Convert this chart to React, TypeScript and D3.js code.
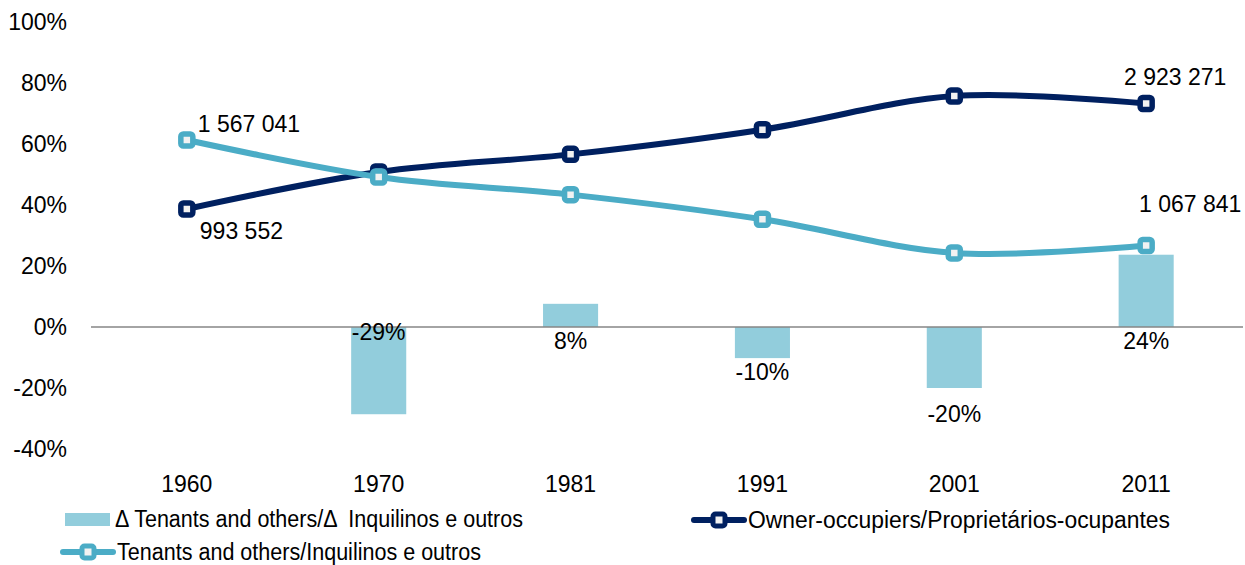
import { useEffect, useRef } from 'react'
import * as d3 from 'd3'

const years = ['1960', '1970', '1981', '1991', '2001', '2011']
const ownerShare = [38.7, 50.8, 56.6, 64.7, 75.7, 73.3]
const tenantShare = [61.3, 49.2, 43.4, 35.3, 24.3, 26.7]
const tenantChange = [null, -28.6, 7.6, -10.2, -20.0, 23.7]
const changeLabels = ['', '-29%', '8%', '-10%', '-20%', '24%']
const yTicks = [-40, -20, 0, 20, 40, 60, 80, 100]

const W = 1245
const H = 565
const FONT = 'Liberation Sans, Arial, sans-serif'
const FS = 23
const OWNER = '#002060'
const TENANT = '#4BACC6'
const BAR = '#92CDDC'

export default function App() {
  const svgRef = useRef<SVGSVGElement>(null)

  useEffect(() => {
    if (!svgRef.current) return
    const svg = d3.select(svgRef.current)
    svg.selectAll('*').remove()

    const x = d3.scaleBand().domain(years).range([91, 1242]).paddingInner(0.713).paddingOuter(0.356)
    const cx = (y: string) => (x(y) ?? 0) + x.bandwidth() / 2
    const y = d3.scaleLinear().domain([-40, 100]).range([449, 22])

    // y tick labels
    svg.append('g')
      .selectAll('text')
      .data(yTicks)
      .join('text')
      .attr('x', 67)
      .attr('y', (d) => y(d))
      .attr('dy', '0.36em')
      .attr('text-anchor', 'end')
      .attr('font-size', FS)
      .attr('font-family', FONT)
      .attr('fill', '#000')
      .text((d) => `${d}%`)

    // bars
    const barData = years.map((yr, i) => ({ yr, v: tenantChange[i], label: changeLabels[i] }))
      .filter((d) => d.v !== null) as { yr: string; v: number; label: string }[]
    svg.append('g')
      .selectAll('rect')
      .data(barData)
      .join('rect')
      .attr('x', (d) => x(d.yr) ?? 0)
      .attr('width', x.bandwidth())
      .attr('y', (d) => y(Math.max(0, d.v)))
      .attr('height', (d) => Math.abs(y(d.v) - y(0)))
      .attr('fill', BAR)

    // zero axis
    svg.append('line')
      .attr('x1', 91).attr('x2', 1243)
      .attr('y1', y(0)).attr('y2', y(0))
      .attr('stroke', '#868686').attr('stroke-width', 1.5)

    // bar labels were nudged by hand in the original: under the baseline for rises,
    // under the bar end for falls (the deepest one sits inside its bar)
    svg.append('g')
      .selectAll('text')
      .data(barData)
      .join('text')
      .attr('x', (d) => cx(d.yr))
      .attr('y', (d) => {
        if (d.v > 0) return y(0) + 14
        if (d.v < -25) return y(0) + 5
        if (d.v < -15) return y(d.v) + 26
        return y(d.v) + 14
      })
      .attr('dy', '0.36em')
      .attr('text-anchor', 'middle')
      .attr('font-size', FS)
      .attr('font-family', FONT)
      .attr('fill', '#000')
      .text((d) => d.label)

    // x tick labels
    svg.append('g')
      .selectAll('text')
      .data(years)
      .join('text')
      .attr('x', (d) => cx(d))
      .attr('y', 484)
      .attr('dy', '0.36em')
      .attr('text-anchor', 'middle')
      .attr('font-size', FS)
      .attr('font-family', FONT)
      .attr('fill', '#000')
      .text((d) => d)

    const line = d3.line<number>()
      .x((_, i) => cx(years[i]))
      .y((d) => y(d))
      .curve(d3.curveCardinal.tension(0))

    const drawSeries = (vals: number[], color: string) => {
      svg.append('path')
        .datum(vals)
        .attr('d', line)
        .attr('fill', 'none')
        .attr('stroke', color)
        .attr('stroke-width', 6)
        .attr('stroke-linejoin', 'round')
        .attr('stroke-linecap', 'round')
      svg.append('g')
        .selectAll('rect')
        .data(vals)
        .join('rect')
        .attr('x', (_, i) => cx(years[i]) - 6)
        .attr('y', (d) => y(d) - 6)
        .attr('width', 12)
        .attr('height', 12)
        .attr('rx', 2.5)
        .attr('fill', '#F2F2F2')
        .attr('stroke', color)
        .attr('stroke-width', 5.5)
    }
    drawSeries(ownerShare, OWNER)
    drawSeries(tenantShare, TENANT)

    // count labels at first and last points
    const countLabel = (txt: string, px: number, py: number, anchor: string) =>
      svg.append('text')
        .attr('x', px).attr('y', py)
        .attr('dy', '0.36em')
        .attr('text-anchor', anchor)
        .attr('font-size', FS)
        .attr('font-family', FONT)
        .attr('fill', '#000')
        .text(txt)
    countLabel('1 567 041', cx('1960') + 11, y(tenantShare[0]) - 16, 'start')
    countLabel('993 552', cx('1960') + 13, y(ownerShare[0]) + 22, 'start')
    countLabel('2 923 271', cx('2011') + 29, y(ownerShare[5]) - 27, 'middle')
    countLabel('1 067 841', cx('2011') + 44, y(tenantShare[5]) - 42, 'middle')

    // legend
    const lg = svg.append('g').attr('font-family', FONT).attr('font-size', FS).attr('fill', '#000')
    lg.append('rect').attr('x', 65).attr('y', 513).attr('width', 45).attr('height', 13).attr('fill', BAR)
    lg.append('text').attr('x', 115).attr('y', 519).attr('dy', '0.36em')
      .style('white-space', 'pre')
      .attr('textLength', 408).attr('lengthAdjust', 'spacingAndGlyphs')
      .text('Δ Tenants and others/Δ  Inquilinos e outros')

    const legendLine = (x0: number, yy: number, color: string, label: string, len: number) => {
      lg.append('line').attr('x1', x0).attr('x2', x0 + 50).attr('y1', yy).attr('y2', yy)
        .attr('stroke', color).attr('stroke-width', 6).attr('stroke-linecap', 'round')
      lg.append('rect').attr('x', x0 + 19).attr('y', yy - 6).attr('width', 12).attr('height', 12)
        .attr('rx', 2.5).attr('fill', '#F2F2F2').attr('stroke', color).attr('stroke-width', 5)
      lg.append('text').attr('x', x0 + 54).attr('y', yy).attr('dy', '0.36em')
        .attr('textLength', len).attr('lengthAdjust', 'spacingAndGlyphs')
        .text(label)
    }
    legendLine(694, 520, OWNER, 'Owner-occupiers/Proprietários-ocupantes', 422)
    legendLine(63, 552, TENANT, 'Tenants and others/Inquilinos e outros', 364)
  }, [])

  return <svg ref={svgRef} width={W} height={H} style={{ display: 'block', position: 'absolute', left: 0, top: 0 }} />
}
